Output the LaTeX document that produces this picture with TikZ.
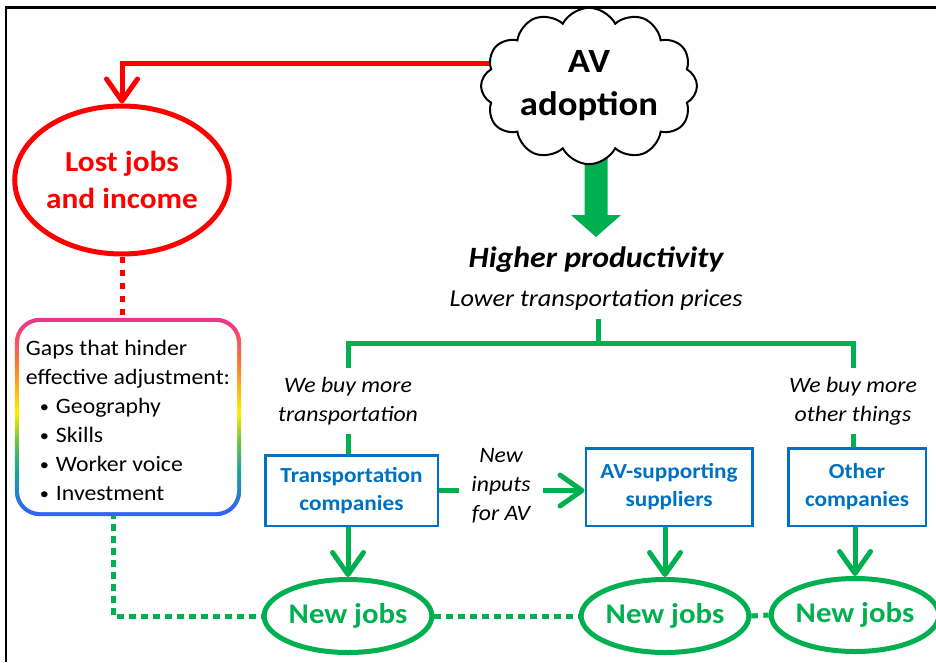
\documentclass[tikz,border=0pt]{standalone}
\usepackage{fontspec}
\setmainfont{Carlito}[FakeStretch=1.08]
\usetikzlibrary{shapes.symbols,shapes.geometric,arrows.meta,calc,backgrounds}
\definecolor{avred}{HTML}{FF0000}
\definecolor{avgreen}{HTML}{00B050}
\definecolor{avblue}{HTML}{0070C0}
\definecolor{rbpink}{HTML}{F2338C}
\definecolor{rborange}{HTML}{FF7A30}
\definecolor{rbyellow}{HTML}{FFEE00}
\definecolor{rbgreen}{HTML}{70C040}
\definecolor{rbteal}{HTML}{14A49A}
\definecolor{rbblue}{HTML}{3366F0}
\pgfdeclareverticalshading{rainbow}{100bp}{color(0bp)=(rbblue); color(27bp)=(rbblue); color(36bp)=(rbteal); color(44bp)=(rbgreen); color(51bp)=(rbyellow); color(63bp)=(rborange); color(74bp)=(rbpink); color(100bp)=(rbpink)}
\newcommand\myfs[2]{\fontsize{#1pt}{#2pt}\selectfont}
\newcommand\mybul{\hspace*{14pt}\makebox[16pt][l]{\raisebox{1.2pt}{\myfs{17}{17}\textbullet}}}
\begin{document}
\begin{tikzpicture}[x=1pt,y=-1pt,
  redline/.style={draw=avred,line width=5pt},
  greenline/.style={draw=avgreen,line width=5pt},
  barb/.style={-{Straight Barb[length=22pt,width=31pt,round]}},
  rdots/.style={draw=avred,line width=5pt,dash pattern=on 6.5pt off 6.5pt},
  gdots/.style={draw=avgreen,line width=5pt,dash pattern=on 6.5pt off 5.5pt},
  jobs/.style={ellipse,draw=avgreen,line width=5pt,minimum width=157pt,minimum height=73pt,inner sep=0pt,text=avgreen,font=\bfseries\myfs{28.5}{34}},
  company/.style={rectangle,draw=avblue,line width=2.5pt,inner sep=0pt,text=avblue,align=center,font=\bfseries\myfs{21.5}{28}},
  note/.style={align=center,font=\itshape\myfs{22}{29},inner xsep=0pt,inner ysep=9pt},
]
\useasboundingbox (0,0) rectangle (936,662);
\draw[line width=2.5pt] (6,662) -- (6,7.5) -- (936,7.5);

% nodes
\node[cloud, cloud puffs=12, cloud puff arc=125, aspect=1.5, draw=black, line width=2pt, fill=white,
      minimum width=216pt, minimum height=143pt, inner sep=0pt, align=center,
      font=\bfseries\myfs{34}{43}] (cloud) at (589,86) {AV\\adoption};
\node[ellipse, draw=avred, line width=5pt, minimum width=190pt, minimum height=148pt, inner sep=0pt,
      text=avred, align=center, font=\bfseries\myfs{29}{37}] (lost) at (122,180) {Lost jobs\\and income};
\node[fill=white, rounded corners=21pt, minimum width=218pt, minimum height=190pt, inner sep=0pt,
      align=left, font=\myfs{22}{29}] (gaps) at (128,417)
  {\rule{0pt}{22pt}Gaps that hinder\\
   effective adjustment:\\
   \mybul Geography\\
   \mybul Skills\\
   \mybul Worker voice\\
   \mybul Investment};
\node[font=\bfseries\itshape\myfs{29.5}{34}, inner sep=0pt, anchor=base] (hp) at (596,267) {Higher productivity};
\node[font=\itshape\myfs{24.3}{29}, inner sep=0pt, anchor=base] (lp) at (596,306) {Lower transportation prices};
\coordinate (split) at (598,343);
\node[note] (buyt) at (348,401) {We buy more\\transportation};
\node[note] (buyo) at (853,401) {We buy more\\other things};
\node[company, minimum width=172.5pt, minimum height=70.5pt] (tc) at (351.5,490.5) {Transportation\\companies};
\node[company, minimum width=166.5pt, minimum height=77.5pt] (avs) at (669,487) {AV-supporting\\suppliers};
\node[company, minimum width=137.5pt, minimum height=77.5pt] (oc) at (857,487) {Other\\companies};
\node[note, inner xsep=12pt, inner ysep=0pt] (inputs) at (501,486) {New\\inputs\\for AV};
\node[jobs] (nj1) at (348,616) {New jobs};
\node[jobs] (nj2) at (665,616) {New jobs};
\node[jobs] (nj3) at (855,615) {New jobs};

\begin{scope}[on background layer]
  \draw[rdots] (lost.south) -- (lost.south |- gaps.north);
  \draw[gdots] ([xshift=-15pt]gaps.south) |- (nj1.west);
  \path[shading=rainbow, rounded corners=25pt] ($(gaps.north west)+(-4pt,4pt)$) rectangle ($(gaps.south east)+(4pt,-4pt)$);
  \draw[redline, barb] ($(cloud.center)+(-60pt,23pt)$) -| (lost.north);
  \fill[avgreen] ($(cloud.center)+(-4.5pt,-40pt)$) -- ($(cloud.center)+(-4.5pt,-129pt)$)
     -- ($(cloud.center)+(-18pt,-129pt)$) -- ($(cloud.center)+(7pt,-151pt)$)
     -- ($(cloud.center)+(32pt,-129pt)$) -- ($(cloud.center)+(18.5pt,-129pt)$)
     -- ($(cloud.center)+(18.5pt,-40pt)$) -- cycle;
\end{scope}

% green tree
\draw[greenline, shorten <=9pt] (lp.south -| split) -- (split);
\draw[greenline] (buyt.north) |- (split) -| (buyo.north);
\draw[greenline] (buyt.south) -- (buyt.south |- tc.north);
\draw[greenline] (buyo.south) -- (buyo.south |- oc.north);
\draw[greenline, barb] (nj1.north |- tc.south) -- (nj1.north);
\draw[greenline, barb] (nj2.north |- avs.south) -- (nj2.north);
\draw[greenline, barb] (nj3.north |- oc.south) -- (nj3.north);
\draw[greenline] (tc.east) -- (inputs.west |- tc.east);
\draw[greenline, barb] (inputs.east |- tc.east) -- (avs.west |- tc.east);
\draw[gdots] (nj1.east) -- (nj2.west);
\draw[gdots] (nj2.east) -- (nj3.west);
\end{tikzpicture}
\end{document}
